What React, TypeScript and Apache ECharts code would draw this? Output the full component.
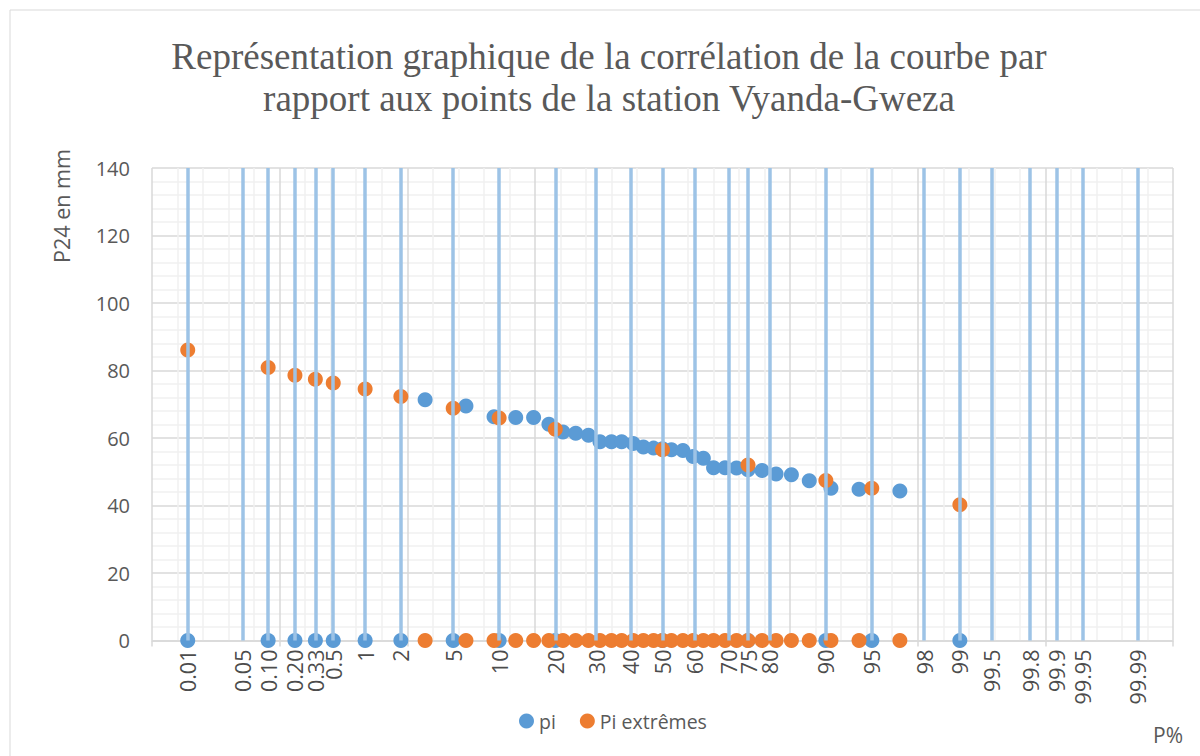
import React, { useEffect, useRef } from "react";
import * as echarts from "echarts";

// Probability paper grid (P%) and its reduced normal variable position
const probLabels = ["0.01", "0.05", "0.10", "0.20", "0.33", "0.5", "1", "2", "5", "10", "20", "30", "40", "50", "60", "70", "75", "80", "90", "95", "98", "99", "99.5", "99.8", "99.9", "99.95", "99.99"];
const probZ = [-3.72, -3.29, -3.09, -2.88, -2.72, -2.58, -2.33, -2.05, -1.64, -1.28, -0.84, -0.52, -0.25, 0, 0.25, 0.52, 0.67, 0.84, 1.28, 1.64, 2.05, 2.33, 2.58, 2.88, 3.09, 3.29, 3.72];

// Series "pi" (observed points)
const piZ = [-1.86, -1.54, -1.32, -1.15, -1.01, -0.89, -0.78, -0.68, -0.58, -0.49, -0.4, -0.32, -0.23, -0.15, -0.07, 0, 0.07, 0.16, 0.24, 0.32, 0.4, 0.49, 0.58, 0.67, 0.78, 0.89, 1.01, 1.15, 1.32, 1.54, 1.86];
const piValues = [71.3, 69.5, 66.3, 66.1, 66.1, 64.1, 61.8, 61.4, 60.8, 58.9, 58.9, 58.9, 58.4, 57.3, 57.0, 56.8, 56.5, 56.3, 54.5, 54.0, 51.2, 51.2, 51.1, 50.6, 50.4, 49.3, 49.1, 47.3, 45.1, 44.8, 44.3];

// Series "Pi extrêmes"
const extZ = [-3.72, -3.09, -2.88, -2.72, -2.58, -2.33, -2.05, -1.64, -1.28, -0.84, 0, 0.67, 1.28, 1.64, 2.33];
const extValues = [86.1, 80.9, 78.6, 77.4, 76.3, 74.5, 72.3, 68.8, 65.9, 62.6, 56.5, 52.0, 47.4, 45.1, 40.2];

const BLUE = "#5b9bd5";
const ORANGE = "#ed7d31";
const GRIDBLUE = "#9dc3e6";
const SANS = "'Open Sans', Lato, sans-serif";
const SERIF = "'Liberation Serif', 'Times New Roman', serif";

export default function App() {
  const ref = useRef<HTMLDivElement>(null);
  useEffect(() => {
    const chart = echarts.init(ref.current!, null, { renderer: "svg" });
    const piData = piZ.map((z, i) => [z, piValues[i]]).concat(extZ.map((z) => [z, 0]));
    const extData = extZ.map((z, i) => [z, extValues[i]]).concat(piZ.map((z) => [z, 0]));
    chart.setOption({
      animation: false,
      backgroundColor: "#ffffff",
      grid: { left: 152, right: 27, top: 168, bottom: 115.5, outerBoundsMode: "none" },
      legend: {
        data: ["pi", "Pi extrêmes"],
        left: 514,
        top: 706,
        icon: "circle",
        itemWidth: 15,
        itemHeight: 15,
        itemGap: 24,
        textStyle: { fontSize: 19.5, color: "#595959", fontFamily: SANS },
      },
      xAxis: {
        type: "value",
        min: -4,
        max: 4,
        interval: 1,
        axisLine: { onZero: true, lineStyle: { color: "#d9d9d9", width: 1.5 } },
        axisTick: { show: true, length: 6, lineStyle: { color: "#d9d9d9", width: 1.5 } },
        axisLabel: { show: false },
        splitLine: { show: true, lineStyle: { color: "#d9d9d9", width: 1.5 } },
        minorTick: { show: false, splitNumber: 5 },
        minorSplitLine: { show: true, lineStyle: { color: "#f0f0f0", width: 1.5 } },
      },
      yAxis: {
        type: "value",
        min: 0,
        max: 140,
        interval: 20,
        axisLine: { show: false },
        axisTick: { show: false },
        axisLabel: { fontSize: 20, color: "#595959", fontFamily: SANS, margin: 22 },
        splitLine: { show: true, lineStyle: { color: "#d9d9d9", width: 1.5 } },
        minorTick: { show: false, splitNumber: 5 },
        minorSplitLine: { show: true, lineStyle: { color: "#f0f0f0", width: 1.5 } },
      },
      graphic: [
        {
          type: "rect",
          shape: { x: 10, y: 10, width: 1200, height: 760 },
          style: { fill: "none", stroke: "#d9d9d9", lineWidth: 1 },
          silent: true,
        },
        {
          type: "text",
          x: 609,
          y: 56,
          style: {
            text: "Représentation graphique de la corrélation de la courbe par",
            fontFamily: SERIF,
            fontSize: 37,
            fill: "#595959",
            align: "center",
            verticalAlign: "middle",
          },
        },
        {
          type: "text",
          x: 609,
          y: 98,
          style: {
            text: "rapport aux points de la station Vyanda-Gweza",
            fontFamily: SERIF,
            fontSize: 37,
            fill: "#595959",
            align: "center",
            verticalAlign: "middle",
          },
        },
        {
          type: "text",
          x: 61,
          y: 206,
          rotation: Math.PI / 2,
          style: {
            text: "P24 en mm",
            fontFamily: SANS,
            fontSize: 21.5,
            fill: "#595959",
            align: "center",
            verticalAlign: "middle",
          },
        },
        {
          type: "text",
          x: 1168,
          y: 735,
          style: {
            text: "P%",
            fontFamily: SANS,
            fontSize: 21,
            fill: "#595959",
            align: "center",
            verticalAlign: "middle",
          },
        },
      ],
      series: [
        {
          name: "labels",
          type: "scatter",
          z: 1,
          silent: true,
          symbolSize: 0.1,
          itemStyle: { color: "rgba(0,0,0,0)" },
          data: probZ.map((z) => [z, 0]),
          label: {
            show: true,
            position: "bottom",
            distance: 9,
            rotate: 90,
            align: "right",
            verticalAlign: "middle",
            fontSize: 21.5,
            color: "#1a1a1a",
            fontFamily: SANS,
            formatter: (p: any) => probLabels[p.dataIndex],
          },
          markLine: {
            silent: true,
            symbol: ["none", "none"],
            label: { show: false },
            emphasis: { disabled: true },
            lineStyle: { color: GRIDBLUE, width: 3.5, type: "solid" },
            data: probZ.map((z) => ({ xAxis: z })),
          },
        },
        {
          name: "pi",
          type: "scatter",
          z: 3,
          symbolSize: 15,
          itemStyle: { color: BLUE, opacity: 1 },
          data: piData,
        },
        {
          name: "Pi extrêmes",
          type: "scatter",
          z: 4,
          symbolSize: 15,
          itemStyle: { color: ORANGE, opacity: 1 },
          data: extData,
        },
      ],
    });
    return () => chart.dispose();
  }, []);
  return (
    <div
      ref={ref}
      style={{ position: "fixed", left: 0, top: 0, width: 1200, height: 756 }}
    />
  );
}
